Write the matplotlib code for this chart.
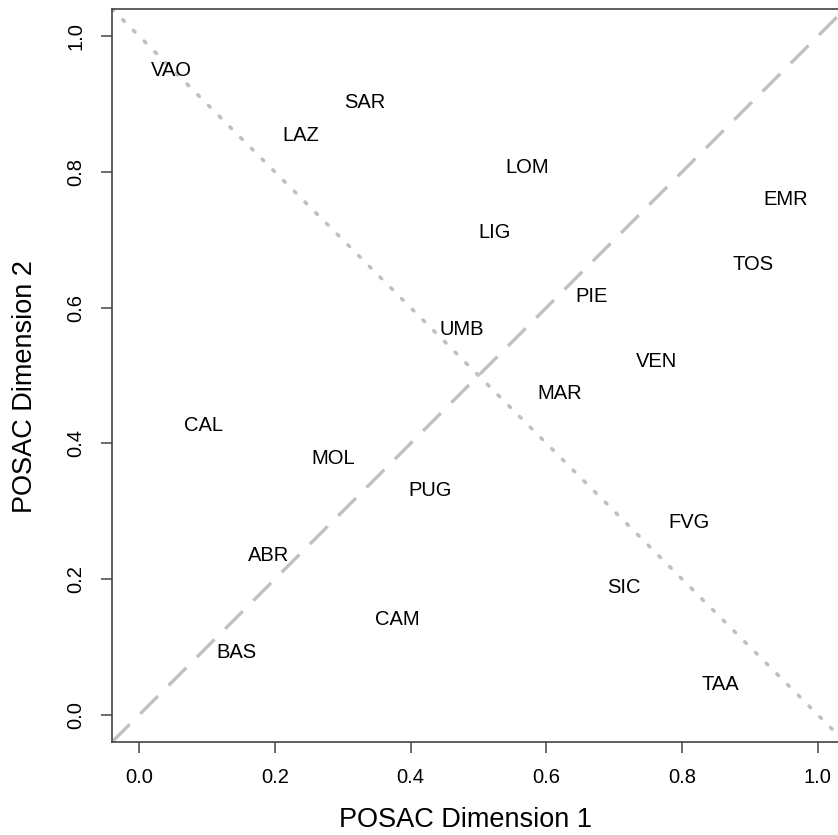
import matplotlib
matplotlib.use("Agg")
import matplotlib.pyplot as plt
import numpy as np

plt.rcParams.update({"font.family": ["Liberation Sans", "DejaVu Sans"],
                     "font.size": 14.5})

# POSAC coordinates of the Italian regions
regions = ["VAO", "SAR", "LAZ", "LOM", "EMR", "LIG", "TOS", "PIE", "UMB", "VEN",
           "MAR", "CAL", "MOL", "PUG", "FVG", "ABR", "SIC", "CAM", "BAS", "TAA"]
dim1 = [0.048, 0.333, 0.238, 0.571, 0.952, 0.524, 0.905, 0.667, 0.476, 0.762,
        0.619, 0.095, 0.286, 0.429, 0.810, 0.190, 0.714, 0.381, 0.143, 0.857]
dim2 = [0.952, 0.905, 0.857, 0.810, 0.762, 0.714, 0.667, 0.619, 0.571, 0.524,
        0.476, 0.429, 0.381, 0.333, 0.286, 0.238, 0.190, 0.143, 0.095, 0.048]
ticks = [0.0, 0.2, 0.4, 0.6, 0.8, 1.0]

W, H = 838, 835
fig = plt.figure(figsize=(W / 100, H / 100), dpi=100)
ax = fig.add_axes([112 / W, 1 - 742 / H, 733 / W, 733 / H])
ax.set_xlim(-0.04, 1.04)
ax.set_ylim(-0.04, 1.04)

# reference lines y = x and y = 1 - x across the whole panel
xx = np.array([-0.04, 1.04])
ax.plot(xx, xx, color="#c0c0c0", lw=2.4, dashes=(7.5, 4.5), solid_capstyle="butt")
ax.plot(xx, 1 - xx, color="#c0c0c0", lw=2.6, dashes=(0.6, 3.6),
        dash_capstyle="round")

for name, x, y in zip(regions, dim1, dim2):
    ax.text(x, y, name, ha="center", va="center_baseline", fontsize=14.5,
            color="black")

for sp in ax.spines.values():
    sp.set_color("#444444")
    sp.set_linewidth(1.2)
ax.set_xticks(ticks)
ax.set_yticks(ticks)
ax.set_xticklabels([f"{t:.1f}" for t in ticks])
ax.set_yticklabels([f"{t:.1f}" for t in ticks], rotation=90, va="center")
ax.tick_params(direction="out", length=8, width=1.1, color="#444444",
               labelsize=14.5, pad=11)

fig.text(465 / W, 1 - 820 / H, "POSAC Dimension 1", ha="center", va="center",
         fontsize=19.5)
fig.text(25 / W, 1 - 387 / H, "POSAC Dimension 2", ha="center", va="center",
         rotation=90, fontsize=19.5)

fig.savefig("out.png", dpi=100)
